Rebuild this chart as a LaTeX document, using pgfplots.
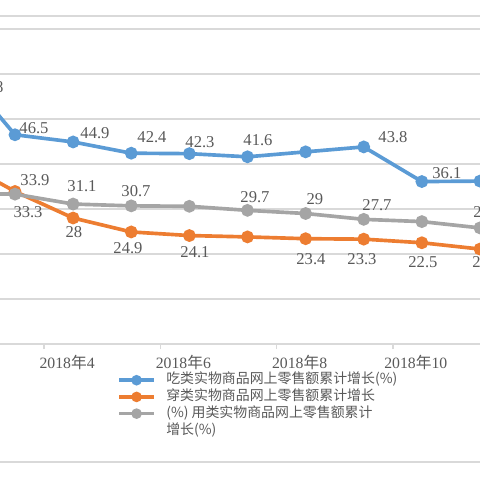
\documentclass[border=0pt]{standalone}
\usepackage{fontspec}
\setmainfont{Liberation Serif}
\newfontfamily\cjk{Noto Sans CJK SC}
\usepackage{pgfplots}
\pgfplotsset{compat=1.18}
\definecolor{cblue}{HTML}{5B9BD5}
\definecolor{corange}{HTML}{ED7D31}
\definecolor{cgray}{HTML}{A5A5A5}
\definecolor{gridgray}{HTML}{D9D9D9}
\definecolor{txt}{HTML}{595959}
\tikzset{lbl/.style={font=\fontsize{11.8}{13}\selectfont, text=txt, anchor=center, inner sep=0pt}}
\begin{document}
\begin{tikzpicture}
\useasboundingbox (0,0) rectangle (12,12);
\clip (0,0) rectangle (12,12);
\begin{axis}[
  at={(-0.3516cm,3.4cm)}, anchor=south west,
  scale only axis, width=13.078cm, height=7.875cm,
  xmin=2.5, xmax=11.5, ymin=0, ymax=70,
  axis line style={draw=gridgray, line width=1pt},
  ytick={0,10,...,70}, yticklabel=\empty,
  ymajorgrids, major grid style={draw=gridgray, line width=1pt},
  xtick={4,6,8,10},
  xticklabels={2018{\cjk 年}4, 2018{\cjk 年}6, 2018{\cjk 年}8, 2018{\cjk 年}10},
  xtick pos=bottom,
  major tick length=0pt,
  xticklabel style={font=\fontsize{11.2}{13}\selectfont, text=txt, anchor=center, yshift=-0.45cm, xshift=-0.15cm},
  extra x ticks={3.5,5.5,7.5,9.5},
  extra x tick labels={{},{},{},{}},
  extra x tick style={major tick length=0.125cm, tick align=outside, xmajorgrids=false, tick style={draw=gridgray, line width=1pt}},
  every axis plot/.append style={line width=2.6pt, mark=*, mark size=3.2pt},
  legend cell align=left,
  legend image code/.code={\draw[mark repeat=2,mark phase=2,#1,line width=2.6pt,mark size=2.4pt] plot coordinates {(0cm,0cm) (0.4375cm,0cm) (0.875cm,0cm)};},
  legend style={at={(0.2505,-0.0876)}, anchor=north west, draw=none, fill=none,
    inner sep=0pt, row sep=0pt, column sep=0.26cm,
    font=\cjk\fontsize{9.9}{12}\selectfont, text=txt,
    nodes={inner sep=0pt, text height=8.6pt, text depth=3.28pt}},
]
\addplot[color=cblue, mark options={fill=cblue}] coordinates {
  (2,61.8) (3,46.5) (4,44.9) (5,42.4) (6,42.3) (7,41.6) (8,42.7) (9,43.8) (10,36.1) (11,36.2)};
\addlegendentry{吃类实物商品网上零售额累计增长(\%)}
\addplot[color=corange, mark options={fill=corange}] coordinates {
  (2,41.0) (3,33.9) (4,28.0) (5,24.9) (6,24.1) (7,23.8) (8,23.4) (9,23.3) (10,22.5) (11,21.1)};
\addlegendentry{穿类实物商品网上零售额累计增长}
\addplot[color=cgray, mark options={fill=cgray}] coordinates {
  (2,33.5) (3,33.3) (4,31.1) (5,30.7) (6,30.6) (7,29.7) (8,29.0) (9,27.7) (10,27.2) (11,25.8)};
\addlegendentry{(\%) 用类实物商品网上零售额累计}
\addlegendimage{empty legend}
\addlegendentry{增长(\%)}
% data labels, blue
\node[lbl] at (axis cs:2.553,57.1) {61.8};
\node[lbl] at (axis cs:3.327,48.0) {46.5};
\node[lbl] at (axis cs:4.376,46.9) {44.9};
\node[lbl] at (axis cs:5.357,46.0) {42.4};
\node[lbl] at (axis cs:6.183,44.9) {42.3};
\node[lbl] at (axis cs:7.181,45.3) {41.6};
\node[lbl] at (axis cs:9.503,46.0) {43.8};
\node[lbl] at (axis cs:10.432,38.0) {36.1};
% orange
\node[lbl] at (axis cs:3.344,36.4) {33.9};
\node[lbl] at (axis cs:4.015,24.9) {28};
\node[lbl] at (axis cs:4.944,21.3) {24.9};
\node[lbl] at (axis cs:6.097,20.4) {24.1};
\node[lbl] at (axis cs:8.092,18.9) {23.4};
\node[lbl] at (axis cs:8.970,18.9) {23.3};
\node[lbl] at (axis cs:10.019,18.2) {22.5};
\node[lbl] at (axis cs:11.12,18.2) {21.1};
% gray
\node[lbl] at (axis cs:3.224,29.3) {33.3};
\node[lbl] at (axis cs:4.153,35.1) {31.1};
\node[lbl] at (axis cs:5.082,34.0) {30.7};
\node[lbl] at (axis cs:7.129,32.7) {29.7};
\node[lbl] at (axis cs:8.161,32.2) {29};
\node[lbl] at (axis cs:9.228,30.9) {27.7};
\node[lbl] at (axis cs:11.138,29.3) {25.8};
\end{axis}
\draw[gridgray, line width=1pt] (0,11.6) -- (12,11.6);
\draw[gridgray, line width=1pt] (0,0.45) -- (12,0.45);
\end{tikzpicture}
\end{document}
